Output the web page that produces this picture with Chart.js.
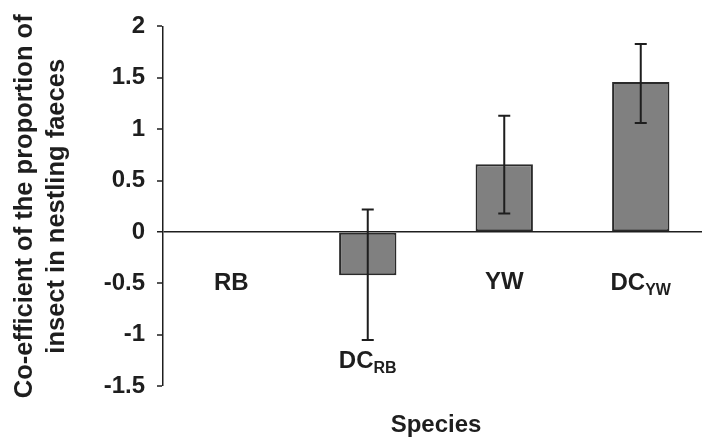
<!DOCTYPE html>
<html>
<head>
<meta charset="utf-8">
<script src="https://cdn.jsdelivr.net/npm/chart.js@4/dist/chart.umd.min.js"></script>
<style>
html,body{margin:0;padding:0;background:#fff;overflow:hidden;}
#wrap{width:702px;height:441px;position:relative;overflow:hidden;}
canvas{display:block;}
</style>
</head>
<body>
<div id="wrap"><canvas id="c" width="709" height="441"></canvas></div>
<script>
// ---- data ----
const categories = ['RB', 'DCRB', 'YW', 'DCYW'];
const catMain = ['RB', 'DC', 'YW', 'DC'];
const catSub = ['', 'RB', '', 'YW'];
const means = [0, -0.42, 0.66, 1.46];
const errHigh = [null, 0.22, 1.13, 1.83];
const errLow = [null, -1.05, 0.18, 1.06];
const yTicks = [-1.5, -1, -0.5, 0, 0.5, 1, 1.5, 2];
const yTitle = ['Co-efficient of the proportion of', 'insect in nestling faeces'];
const xTitle = 'Species';

const FONT = '"Liberation Sans", Arial, sans-serif';
const INK = '#1e1e1e';
const labelYVal = [-0.5, -1.26, -0.49, -0.5];

const errorBars = {
  id: 'errorBars',
  afterDatasetsDraw(chart) {
    const {ctx, scales: {x, y}} = chart;
    ctx.save();
    ctx.strokeStyle = INK;
    ctx.lineWidth = 2;
    for (let i = 0; i < categories.length; i++) {
      if (errHigh[i] == null) continue;
      const px = x.getPixelForValue(i);
      const yh = y.getPixelForValue(errHigh[i]);
      const yl = y.getPixelForValue(errLow[i]);
      ctx.beginPath();
      ctx.moveTo(px, yh); ctx.lineTo(px, yl);
      ctx.moveTo(px - 6, yh); ctx.lineTo(px + 6, yh);
      ctx.moveTo(px - 6, yl); ctx.lineTo(px + 6, yl);
      ctx.stroke();
    }
    ctx.restore();
  }
};

const catLabels = {
  id: 'catLabels',
  afterDraw(chart) {
    const {ctx, scales: {x, y}} = chart;
    ctx.save();
    ctx.fillStyle = INK;
    ctx.textBaseline = 'middle';
    ctx.textAlign = 'left';
    const mainFont = 'bold 24px ' + FONT;
    const subFont = 'bold 16px ' + FONT;
    for (let i = 0; i < categories.length; i++) {
      ctx.font = mainFont;
      const wm = ctx.measureText(catMain[i]).width;
      ctx.font = subFont;
      const ws = catSub[i] ? ctx.measureText(catSub[i]).width : 0;
      const cx = x.getPixelForValue(i);
      const cy = y.getPixelForValue(labelYVal[i]);
      const sx = cx - (wm + ws) / 2;
      ctx.font = mainFont;
      ctx.fillText(catMain[i], sx, cy);
      if (catSub[i]) {
        ctx.font = subFont;
        ctx.fillText(catSub[i], sx + wm, cy + 7);
      }
    }
    ctx.restore();
  }
};

new Chart(document.getElementById('c'), {
  type: 'bar',
  data: {
    labels: categories,
    datasets: [{
      data: means,
      backgroundColor: '#808080',
      borderColor: '#2a2a2a',
      borderWidth: 2,
      borderSkipped: false,
      categoryPercentage: 1,
      barPercentage: 0.42
    }]
  },
  options: {
    responsive: false,
    animation: false,
    events: [],
    layout: {padding: {top: 23, right: 0, bottom: 0, left: 0}},
    plugins: {legend: {display: false}, tooltip: {enabled: false}},
    scales: {
      x: {
        grid: {display: false},
        border: {display: false},
        ticks: {display: false},
        title: {
          display: true, text: xTitle, color: INK,
          font: {family: FONT, size: 24, weight: 'bold', lineHeight: 1.2},
          padding: {top: 17, bottom: 1}
        }
      },
      y: {
        min: -1.5, max: 2,
        afterBuildTicks(s) { s.ticks = yTicks.map(v => ({value: v})); },
        afterFit(s) { s.width = 163; },
        border: {display: true, color: INK, width: 1.5},
        grid: {
          drawOnChartArea: true,
          drawTicks: true,
          tickLength: 6,
          tickColor: INK,
          tickWidth: 1.5,
          lineWidth: ctx => (ctx.tick && ctx.tick.value === 0 ? 1.5 : 0),
          color: ctx => (ctx.tick && ctx.tick.value === 0 ? INK : 'rgba(0,0,0,0)')
        },
        ticks: {
          color: INK, padding: 12,
          font: {family: FONT, size: 24, weight: 'bold'},
          callback: v => String(v)
        },
        title: {
          display: true, text: yTitle, color: INK,
          font: {family: FONT, size: 25.5, weight: 'bold', lineHeight: 1.26},
          padding: {top: 9, bottom: 0}
        }
      }
    }
  },
  plugins: [errorBars, catLabels]
});
</script>
</body>
</html>
